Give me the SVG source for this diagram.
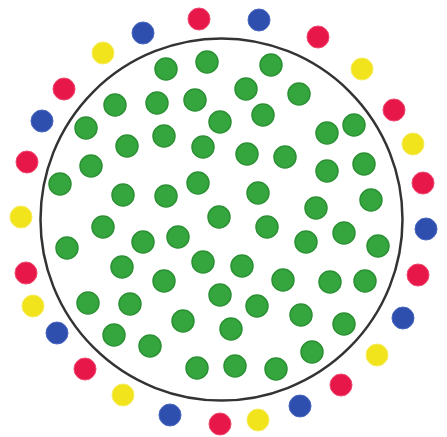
<svg xmlns="http://www.w3.org/2000/svg" width="447" height="437" viewBox="0 0 447 437">
<style>
.g{fill:#35a53d;stroke:#2c9135;stroke-width:1.5}
.r{fill:#e8174a;stroke:#f04a70;stroke-width:1}
.b{fill:#2e4fae;stroke:#4a68c0;stroke-width:1}
.y{fill:#f2e41c;stroke:#f6ec60;stroke-width:1}
</style>
<rect width="447" height="437" fill="#ffffff"/>
<circle cx="221.5" cy="219.5" r="181" fill="none" stroke="#333333" stroke-width="2.5"/>
<g id="outer">
<circle class="r" cx="199" cy="19" r="11"/>
<circle class="b" cx="259" cy="20" r="11"/>
<circle class="r" cx="318" cy="37" r="11"/>
<circle class="y" cx="362" cy="69" r="11"/>
<circle class="r" cx="394" cy="110" r="11"/>
<circle class="y" cx="413" cy="144" r="11"/>
<circle class="r" cx="423" cy="183" r="11"/>
<circle class="b" cx="426" cy="229" r="11"/>
<circle class="r" cx="418" cy="275" r="11"/>
<circle class="b" cx="403" cy="318" r="11"/>
<circle class="y" cx="377" cy="355" r="11"/>
<circle class="r" cx="341" cy="385" r="11"/>
<circle class="b" cx="300" cy="406" r="11"/>
<circle class="y" cx="258" cy="420" r="11"/>
<circle class="r" cx="220" cy="424" r="11"/>
<circle class="b" cx="170" cy="415" r="11"/>
<circle class="y" cx="123" cy="395" r="11"/>
<circle class="r" cx="85" cy="369" r="11"/>
<circle class="b" cx="57" cy="333" r="11"/>
<circle class="y" cx="33" cy="306" r="11"/>
<circle class="r" cx="26" cy="273" r="11"/>
<circle class="y" cx="21" cy="217" r="11"/>
<circle class="r" cx="27" cy="162" r="11"/>
<circle class="b" cx="42" cy="121" r="11"/>
<circle class="r" cx="64" cy="89" r="11"/>
<circle class="y" cx="103" cy="53" r="11"/>
<circle class="b" cx="143" cy="33" r="11"/>
</g>
<g id="inner">
<circle class="g" cx="166" cy="69" r="11"/>
<circle class="g" cx="207" cy="62" r="11"/>
<circle class="g" cx="271" cy="65" r="11"/>
<circle class="g" cx="246" cy="89" r="11"/>
<circle class="g" cx="299" cy="94" r="11"/>
<circle class="g" cx="115" cy="105" r="11"/>
<circle class="g" cx="157" cy="103" r="11"/>
<circle class="g" cx="195" cy="100" r="11"/>
<circle class="g" cx="220" cy="122" r="11"/>
<circle class="g" cx="263" cy="115" r="11"/>
<circle class="g" cx="327" cy="133" r="11"/>
<circle class="g" cx="354" cy="125" r="11"/>
<circle class="g" cx="86" cy="128" r="11"/>
<circle class="g" cx="127" cy="146" r="11"/>
<circle class="g" cx="164" cy="136" r="11"/>
<circle class="g" cx="203" cy="147" r="11"/>
<circle class="g" cx="247" cy="154" r="11"/>
<circle class="g" cx="285" cy="157" r="11"/>
<circle class="g" cx="327" cy="171" r="11"/>
<circle class="g" cx="364" cy="164" r="11"/>
<circle class="g" cx="91" cy="166" r="11"/>
<circle class="g" cx="60" cy="184" r="11"/>
<circle class="g" cx="123" cy="195" r="11"/>
<circle class="g" cx="166" cy="196" r="11"/>
<circle class="g" cx="198" cy="183" r="11"/>
<circle class="g" cx="258" cy="193" r="11"/>
<circle class="g" cx="316" cy="208" r="11"/>
<circle class="g" cx="371" cy="200" r="11"/>
<circle class="g" cx="219" cy="217" r="11"/>
<circle class="g" cx="267" cy="227" r="11"/>
<circle class="g" cx="103" cy="227" r="11"/>
<circle class="g" cx="67" cy="248" r="11"/>
<circle class="g" cx="143" cy="242" r="11"/>
<circle class="g" cx="178" cy="237" r="11"/>
<circle class="g" cx="344" cy="233" r="11"/>
<circle class="g" cx="306" cy="242" r="11"/>
<circle class="g" cx="378" cy="246" r="11"/>
<circle class="g" cx="122" cy="267" r="11"/>
<circle class="g" cx="203" cy="262" r="11"/>
<circle class="g" cx="242" cy="266" r="11"/>
<circle class="g" cx="164" cy="281" r="11"/>
<circle class="g" cx="283" cy="280" r="11"/>
<circle class="g" cx="330" cy="282" r="11"/>
<circle class="g" cx="365" cy="281" r="11"/>
<circle class="g" cx="220" cy="295" r="11"/>
<circle class="g" cx="88" cy="303" r="11"/>
<circle class="g" cx="130" cy="304" r="11"/>
<circle class="g" cx="257" cy="306" r="11"/>
<circle class="g" cx="183" cy="321" r="11"/>
<circle class="g" cx="301" cy="315" r="11"/>
<circle class="g" cx="344" cy="324" r="11"/>
<circle class="g" cx="114" cy="335" r="11"/>
<circle class="g" cx="231" cy="329" r="11"/>
<circle class="g" cx="150" cy="346" r="11"/>
<circle class="g" cx="312" cy="352" r="11"/>
<circle class="g" cx="197" cy="368" r="11"/>
<circle class="g" cx="235" cy="366" r="11"/>
<circle class="g" cx="276" cy="369" r="11"/>
</g>
</svg>
